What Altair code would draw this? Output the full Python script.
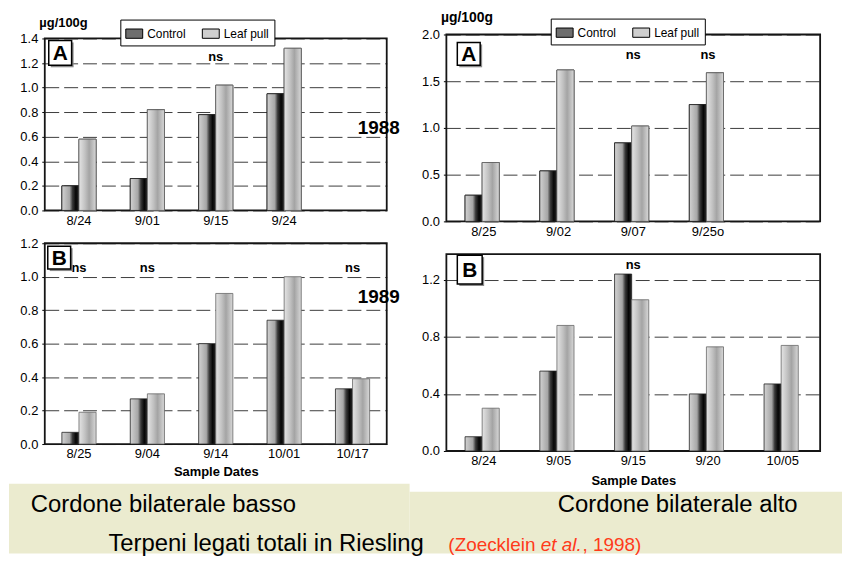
import altair as alt
import pandas as pd

FONT = "Liberation Sans"
SERIES = ["Control", "Leaf pull"]

# Top-left: cordone basso, 1988 (A)
TL_DATES = ["8/24", "9/01", "9/15", "9/24"]
TL_SLOTS = ["8/24", "9/01", "9/15", "9/24", " "]
TL_CONTROL = [0.20, 0.26, 0.78, 0.95]
TL_LEAF = [0.58, 0.82, 1.02, 1.32]
TL_NS = ["9/15"]
TL_TICKS = [0.0, 0.2, 0.4, 0.6, 0.8, 1.0, 1.2, 1.4]

# Top-right: cordone alto, 1988 (A)
TR_DATES = ["8/25", "9/02", "9/07", "9/25o"]
TR_SLOTS = ["8/25", "9/02", "9/07", "9/25o", " "]
TR_CONTROL = [0.28, 0.54, 0.84, 1.25]
TR_LEAF = [0.63, 1.62, 1.02, 1.59]
TR_NS = ["9/07", "9/25o"]
TR_TICKS = [0.0, 0.5, 1.0, 1.5, 2.0]

# Bottom-left: cordone basso, 1989 (B)
BL_DATES = ["8/25", "9/04", "9/14", "10/01", "10/17"]
BL_CONTROL = [0.07, 0.27, 0.60, 0.74, 0.33]
BL_LEAF = [0.19, 0.30, 0.90, 1.00, 0.39]
BL_NS = ["8/25", "9/04", "10/17"]
BL_TICKS = [0.0, 0.2, 0.4, 0.6, 0.8, 1.0, 1.2]

# Bottom-right: cordone alto, 1989 (B)
BR_DATES = ["8/24", "9/05", "9/15", "9/20", "10/05"]
BR_CONTROL = [0.10, 0.56, 1.24, 0.40, 0.47]
BR_LEAF = [0.30, 0.88, 1.06, 0.73, 0.74]
BR_NS = ["9/15"]
BR_TICKS = [0.0, 0.4, 0.8, 1.2]

GRAD_CONTROL = alt.Gradient(
    gradient="linear", x1=0, x2=1, y1=0, y2=0,
    stops=[alt.GradientStop(color="#d2d2d2", offset=0),
           alt.GradientStop(color="#a6a6a6", offset=0.45),
           alt.GradientStop(color="#3a3a3a", offset=0.62),
           alt.GradientStop(color="#050505", offset=0.82),
           alt.GradientStop(color="#2a2a2a", offset=1)])
GRAD_LEAF = alt.Gradient(
    gradient="linear", x1=0, x2=1, y1=0, y2=0,
    stops=[alt.GradientStop(color="#e4e4e4", offset=0),
           alt.GradientStop(color="#c2c2c2", offset=0.35),
           alt.GradientStop(color="#a4a4a4", offset=0.6),
           alt.GradientStop(color="#d8d8d8", offset=1)])

ONE = pd.DataFrame({"k": [0]})
RED = "#ff3a1a"
BEIGE = "#ebebcf"
W, H = 838, 546


def txt(s, x, y, size, weight="normal", color="black", align="left", baseline="alphabetic", style="normal"):
    return alt.Chart(ONE).mark_text(
        text=s, font=FONT, fontSize=size, fontWeight=weight, color=color,
        align=align, baseline=baseline, fontStyle=style
    ).encode(x=alt.value(x), y=alt.value(y))


def rect(x1, x2, y1, y2, fill, stroke="transparent", sw=0):
    return alt.Chart(ONE).mark_rect(fill=fill, stroke=stroke, strokeWidth=sw).encode(
        x=alt.value(x1), x2=alt.value(x2), y=alt.value(y1), y2=alt.value(y2))


def panel(dates, slots, control, leaf, ns_dates, ns_y, ymax, frame_top, yticks, w, h,
          letter, box, ytitle=None, xtitle=None, xtitle_pad=2, legend_xy=None,
          pre=(), extras=()):
    df = pd.DataFrame({
        "date": dates + dates,
        "series": [SERIES[0]] * len(dates) + [SERIES[1]] * len(dates),
        "value": control + leaf,
    })
    yargs = dict(values=yticks, format=".1f", grid=True, gridColor="#3c3c3c",
                 gridDash=[14, 5], gridWidth=1, ticks=True, tickSize=3, tickColor="black",
                 domain=False, labelFontSize=13, labelColor="black",
                 labelPadding=4, labelFont=FONT)
    if ytitle:
        yargs.update(title=ytitle[0], titleAngle=0, titleAlign="left", titleBaseline="alphabetic",
                     titleX=ytitle[1], titleY=ytitle[2], titleFontSize=ytitle[3],
                     titleFontWeight="bold", titleColor="black", titleFont=FONT)
    else:
        yargs.update(title=None)
    xargs = dict(labelAngle=0, ticks=False, grid=False, domain=False,
                 labelFontSize=13, labelColor="black", labelPadding=4, labelFont=FONT)
    if xtitle:
        xargs.update(title=xtitle, titleFontSize=13, titleFontWeight="bold", titleColor="black",
                     titlePadding=xtitle_pad, titleFont=FONT)
    else:
        xargs.update(title=None)

    X = alt.X("date:N", scale=alt.Scale(domain=slots, paddingInner=0.5, paddingOuter=0.25),
              axis=alt.Axis(**xargs))
    Y = alt.Y("value:Q", scale=alt.Scale(domain=[0, ymax], nice=False, zero=True),
              axis=alt.Axis(**yargs))
    XO = alt.XOffset("series:N", scale=alt.Scale(domain=SERIES, paddingInner=0, paddingOuter=0))

    base = alt.Chart(df)
    layers = list(pre)
    # plot frame, top edge placed through the y scale
    frame_df = pd.DataFrame({"value": [frame_top]})
    layers.append(alt.Chart(frame_df).mark_rect(fill="transparent", stroke="#151515", strokeWidth=1.8)
                  .encode(y=Y, y2=alt.value(h), x=alt.value(0), x2=alt.value(w)))
    if legend_xy:
        leg = alt.Legend(title=None, orient="none", legendX=legend_xy[0], legendY=legend_xy[1],
                         direction="horizontal", fillColor="white", strokeColor="black",
                         padding=5, symbolType="M-1,-0.55H1V0.55H-1Z", symbolSize=289,
                         symbolStrokeColor="black", symbolStrokeWidth=1, symbolOpacity=1,
                         labelFontSize=12, labelFont=FONT, labelColor="black",
                         columnPadding=14, labelOffset=4)
        layers.append(base.mark_bar(stroke="black", strokeWidth=0.8).encode(
            x=X, y=Y, xOffset=XO,
            color=alt.Color("series:N", scale=alt.Scale(domain=SERIES, range=["#6e6e6e", "#cfcfcf"]),
                            legend=leg)))
    layers.append(base.transform_filter(alt.datum.series == SERIES[0]).mark_bar(
        fill=GRAD_CONTROL, stroke="#222222", strokeWidth=0.8).encode(x=X, y=Y, xOffset=XO))
    layers.append(base.transform_filter(alt.datum.series == SERIES[1]).mark_bar(
        fill=GRAD_LEAF, stroke="#666666", strokeWidth=0.8).encode(x=X, y=Y, xOffset=XO))
    ns_df = pd.DataFrame({"date": ns_dates, "value": [ns_y] * len(ns_dates)})
    layers.append(alt.Chart(ns_df).mark_text(text="ns", font=FONT, fontSize=13, fontWeight="bold",
                                             color="black", baseline="middle").encode(x=X, y=Y))
    b = box
    layers.append(rect(b[0] + 2, b[1] + 2, b[2] + 2, b[3] + 2, "#8a8a8a"))
    layers.append(rect(b[0], b[1], b[2], b[3], "white", "black", 1.5))
    layers.append(txt(letter, (b[0] + b[1]) / 2, (b[2] + b[3]) / 2 + 1, 21, "bold",
                      align="center", baseline="middle"))
    layers.extend(extras)
    return alt.layer(*layers).properties(width=w, height=h)


# TL plot origin sits at page (44, 32)
TL = panel(TL_DATES, TL_SLOTS, TL_CONTROL, TL_LEAF, TL_NS, 1.25, 1.4324, 1.4, TL_TICKS, 344, 177,
           "A", (4, 27, 6, 31), ytitle=("µg/100g", -6, -8, 13), legend_xy=(76, -15),
           pre=[rect(-36, -35, -24, -23, "white")],
           extras=[txt("1988", 336, 94, 19, "bold", align="center", baseline="middle")])

# TR plot origin at page (448, 32)
TR = panel(TR_DATES, TR_SLOTS, TR_CONTROL, TR_LEAF, TR_NS, 1.78, 2.0, 2.0, TR_TICKS, 376, 188,
           "A", (11, 34, 8, 31), ytitle=("µg/100g", -6, -13, 14), legend_xy=(105, -16))

# BL plot origin at page (44, 242)
BL = panel(BL_DATES, BL_DATES, BL_CONTROL, BL_LEAF, BL_NS, 1.05, 1.2, 1.2, BL_TICKS, 344, 202,
           "B", (3, 26, 3, 26), xtitle="Sample Dates", xtitle_pad=5,
           pre=[rect(-36, 367, 242, H - 234, BEIGE),
                rect(367, W - 36, 250, H - 234, BEIGE)],
           extras=[txt("1989", 336, 54, 19, "bold", align="center", baseline="middle"),
                   txt("Cordone bilaterale basso", -14, 270, 24),
                   txt("Terpeni legati totali in Riesling", 64, 310, 24),
                   txt("(Zoecklein", 406, 310, 19, color=RED),
                   txt("et al.", 499, 310, 19, color=RED, style="italic"),
                   txt(", 1998)", 541, 310, 19, color=RED)])

# BR plot origin at page (448, 242)
BR = panel(BR_DATES, BR_DATES, BR_CONTROL, BR_LEAF, BR_NS, 1.30, 1.456, 1.38, BR_TICKS, 376, 209,
           "B", (11, 36, 12, 41), xtitle="Sample Dates", xtitle_pad=7,
           extras=[txt("Cordone bilaterale alto", 112, 270, 24)])

chart = alt.concat(
    TL, TR, BL, BR, columns=2, bounds="flush", align="each",
    spacing=alt.RowColnumber(row=22, column=60),
).resolve_scale(color="independent").resolve_legend(color="independent").properties(
    padding=0
).configure(font=FONT, background="white").configure_view(stroke="transparent")

chart.save("out.html", embed_options={"renderer": "svg", "actions": False})
